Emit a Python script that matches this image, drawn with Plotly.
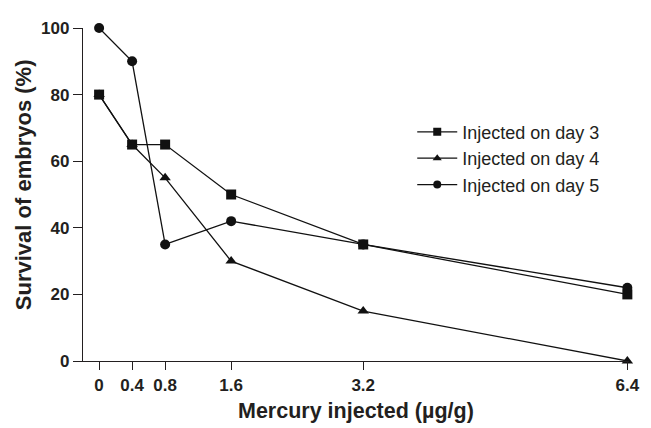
import plotly.graph_objects as go

doses = [0, 0.4, 0.8, 1.6, 3.2, 6.4]
day3 = [80, 65, 65, 50, 35, 20]
day4 = [80, 65, 55, 30, 15, 0]
day5 = [100, 90, 35, 42, 35, 22]
series_names = ["Injected on day 3", "Injected on day 4", "Injected on day 5"]
x_ticks = [0, 0.4, 0.8, 1.6, 3.2, 6.4]
x_ticklabels = ["0", "0.4", "0.8", "1.6", "3.2", "6.4"]
y_ticks = [0, 20, 40, 60, 80, 100]

FONT = "Liberation Sans, Arial, sans-serif"
INK = "#231f20"
symbols = ["square", "triangle-up", "circle"]

fig = go.Figure()
for i, (name, vals, sym) in enumerate(zip(series_names, [day3, day4, day5], symbols)):
    fig.add_trace(go.Scatter(
        x=doses, y=vals, name=name, mode="lines+markers",
        legendgroup=f"g{i}", showlegend=False,
        line=dict(color="#111", width=1.3),
        marker=dict(symbol=sym, size=10, color="#111"),
        cliponaxis=False,
    ))
# legend entries (smaller symbols, as in the original key)
for i, (name, sym) in enumerate(zip(series_names, symbols)):
    fig.add_trace(go.Scatter(
        x=[None], y=[None], name=name, mode="lines+markers",
        legendgroup=f"g{i}", showlegend=True,
        line=dict(color="#111", width=1.3),
        marker=dict(symbol=sym, size=8, color="#111"),
    ))

fig.update_layout(
    width=643, height=420,
    margin=dict(l=75, r=11, t=15, b=67),
    paper_bgcolor="white", plot_bgcolor="white",
    font=dict(family=FONT, color=INK),
    showlegend=True,
    legend=dict(
        x=0.603, y=0.743, xanchor="left", yanchor="top",
        font=dict(family=FONT, size=18, color=INK),
        bgcolor="rgba(0,0,0,0)", itemwidth=40,
        traceorder="grouped", tracegroupgap=0,
    ),
    xaxis=dict(
        range=[-0.195, 6.42], tickvals=x_ticks, ticktext=x_ticklabels,
        showgrid=False, zeroline=False, showline=True, linecolor=INK, linewidth=1.3,
        ticks="outside", ticklen=8, tickwidth=1.3, tickcolor=INK,
        tickfont=dict(family=FONT, size=17, color=INK, weight="bold"),
    ),
    yaxis=dict(
        range=[0, 100], tickvals=y_ticks,
        showgrid=False, zeroline=False, showline=True, linecolor=INK, linewidth=1.3,
        ticks="outside", ticklen=9, tickwidth=1.3, tickcolor=INK,
        tickfont=dict(family=FONT, size=17, color=INK, weight="bold"),
    ),
    annotations=[
        dict(text="<b>Mercury injected (µg/g)</b>", xref="paper", yref="paper",
             x=0.5, y=-0.192, xanchor="center", yanchor="bottom", showarrow=False,
             font=dict(family=FONT, size=21.5, color=INK)),
        dict(text="<b>Survival of embryos (%)</b>", xref="paper", yref="paper",
             x=-0.1087, y=0.53, xanchor="center", yanchor="middle", showarrow=False,
             textangle=-90, font=dict(family=FONT, size=22, color=INK)),
    ],
)

fig.write_html("out.html")
